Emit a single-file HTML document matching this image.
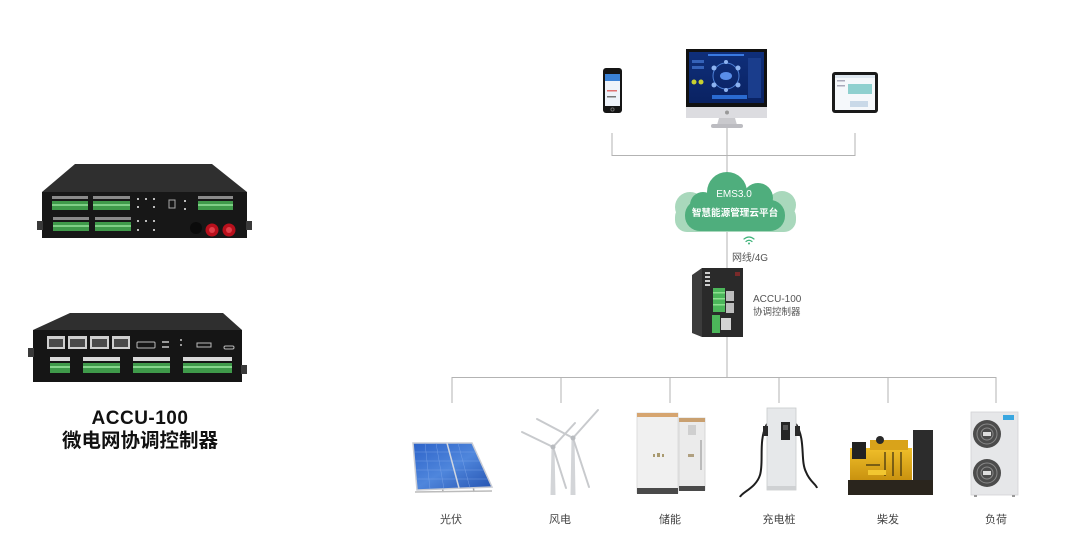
<!DOCTYPE html>
<html><head><meta charset="utf-8"><style>
html,body{margin:0;padding:0;background:#fff;}
svg{display:block;}
text{font-family:"Liberation Sans","Noto Sans CJK SC",sans-serif;}
</style></head><body>
<svg width="1088" height="557" viewBox="0 0 1088 557" xmlns="http://www.w3.org/2000/svg">
<defs>
<linearGradient id="sol" x1="0" y1="0" x2="1" y2="1"><stop offset="0" stop-color="#2c62c8"/><stop offset="0.5" stop-color="#4f86dc"/><stop offset="1" stop-color="#2452b0"/></linearGradient>
<linearGradient id="scr" x1="0" y1="0" x2="0" y2="1"><stop offset="0" stop-color="#0f2f7a"/><stop offset="1" stop-color="#0a2262"/></linearGradient>
<linearGradient id="gen" x1="0" y1="0" x2="0" y2="1"><stop offset="0" stop-color="#f0bf2a"/><stop offset="1" stop-color="#c9920f"/></linearGradient>
</defs>
<rect width="1088" height="557" fill="#fff"/>

<!-- connector lines -->
<g stroke="#b3b3b3" stroke-width="1" fill="none">
<path d="M612 133V155.5H855V133"/>
<path d="M727 127V377"/>
<path d="M452 403V377.5H996V403"/>
<path d="M561 377V403M670 377V403M779 377V403M888 377V403"/>
</g>

<!-- ===== Left device 1 ===== -->
<polygon points="75,164 212,164 247,192 42,192" fill="#2f2f2f"/>
<rect x="42" y="192" width="205" height="46" fill="#171717"/>
<rect x="37" y="221" width="6" height="9" fill="#3a3a3a"/>
<rect x="246" y="221" width="6" height="9" fill="#3a3a3a"/>
<g fill="#8a8a8a">
<rect x="52" y="196" width="36" height="3"/><rect x="93" y="196" width="37" height="3"/>
<rect x="53" y="217" width="36" height="3"/><rect x="95" y="217" width="36" height="3"/>
<rect x="198" y="196" width="35" height="3"/>
</g>
<g fill="#3f9a4a">
<rect x="52" y="201" width="36" height="9"/><rect x="93" y="201" width="37" height="9"/>
<rect x="53" y="222" width="36" height="9"/><rect x="95" y="222" width="36" height="9"/>
<rect x="198" y="201" width="35" height="9"/>
</g>
<g fill="#7fcf86">
<rect x="52" y="204" width="36" height="2"/><rect x="93" y="204" width="37" height="2"/>
<rect x="53" y="225" width="36" height="2"/><rect x="95" y="225" width="36" height="2"/>
<rect x="198" y="204" width="35" height="2"/>
</g>
<g fill="#bbb">
<rect x="137" y="198" width="2" height="2"/><rect x="145" y="198" width="2" height="2"/><rect x="153" y="198" width="2" height="2"/>
<rect x="137" y="206" width="2" height="2"/><rect x="153" y="206" width="2" height="2"/>
<rect x="137" y="220" width="2" height="2"/><rect x="145" y="220" width="2" height="2"/><rect x="153" y="220" width="2" height="2"/>
<rect x="137" y="229" width="2" height="2"/><rect x="153" y="229" width="2" height="2"/>
<rect x="184" y="200" width="2" height="2"/><rect x="184" y="208" width="2" height="2"/>
</g>
<rect x="169" y="200" width="6" height="8" fill="none" stroke="#aaa" stroke-width="1"/>
<circle cx="196" cy="228" r="6" fill="#0b0b0b"/>
<circle cx="212" cy="230" r="6.5" fill="#b8101c"/><circle cx="212" cy="230" r="3" fill="#e0404a"/>
<circle cx="229" cy="230" r="6.5" fill="#b8101c"/><circle cx="229" cy="230" r="3" fill="#e0404a"/>

<!-- ===== Left device 2 ===== -->
<polygon points="70,313 223,313 242,330 33,330" fill="#2f2f2f"/>
<rect x="33" y="330" width="209" height="52" fill="#151515"/>
<rect x="28" y="348" width="6" height="9" fill="#3a3a3a"/>
<rect x="241" y="365" width="6" height="9" fill="#3a3a3a"/>
<g fill="#cfcfcf">
<rect x="47" y="336" width="18" height="13"/><rect x="68" y="336" width="19" height="13"/>
<rect x="90" y="336" width="19" height="13"/><rect x="112" y="336" width="18" height="13"/>
</g>
<g fill="#4a4a4a">
<rect x="49" y="339" width="14" height="8"/><rect x="70" y="339" width="15" height="8"/>
<rect x="92" y="339" width="15" height="8"/><rect x="114" y="339" width="14" height="8"/>
</g>
<rect x="137" y="342" width="18" height="6" rx="1" fill="none" stroke="#bbb" stroke-width="1"/>
<rect x="197" y="343" width="14" height="4" fill="none" stroke="#bbb" stroke-width="1"/>
<rect x="224" y="346" width="10" height="3" rx="1.5" fill="none" stroke="#bbb" stroke-width="1"/>
<g fill="#999"><rect x="162" y="341" width="7" height="2"/><rect x="162" y="346" width="7" height="2"/><rect x="180" y="339" width="2" height="2"/><rect x="180" y="344" width="2" height="2"/></g>
<g fill="#d8d8d8">
<rect x="50" y="357" width="20" height="4"/><rect x="83" y="357" width="37" height="4"/>
<rect x="133" y="357" width="37" height="4"/><rect x="183" y="357" width="49" height="4"/>
</g>
<g fill="#3f9a4a">
<rect x="50" y="363" width="20" height="10"/><rect x="83" y="363" width="37" height="10"/>
<rect x="133" y="363" width="37" height="10"/><rect x="183" y="363" width="49" height="10"/>
</g>
<g fill="#86d68c">
<rect x="50" y="366" width="20" height="2"/><rect x="83" y="366" width="37" height="2"/>
<rect x="133" y="366" width="37" height="2"/><rect x="183" y="366" width="49" height="2"/>
</g>

<text x="140" y="424" font-size="19" font-weight="bold" text-anchor="middle" fill="#111" letter-spacing="0.5">ACCU-100</text>
<text x="140" y="447" font-size="19.5" font-weight="bold" text-anchor="middle" fill="#111" style='font-family:"Noto Sans CJK SC",sans-serif'>微电网协调控制器</text>

<!-- ===== Top devices ===== -->
<rect x="603" y="68" width="19" height="45" rx="3" fill="#151515"/>
<rect x="605" y="74" width="15" height="32" fill="#eef3fa"/>
<rect x="605" y="74" width="15" height="7" fill="#3b82d6"/>
<rect x="607" y="90" width="10" height="1.5" fill="#e07070"/>
<rect x="607" y="96" width="9" height="1.5" fill="#777"/>
<circle cx="612.5" cy="109.5" r="1.6" fill="none" stroke="#777" stroke-width="0.8"/>

<rect x="686" y="49" width="81" height="58" fill="#111"/>
<rect x="689" y="52" width="75" height="51" fill="url(#scr)"/>
<circle cx="726" cy="76" r="13" fill="none" stroke="#4c7fd6" stroke-width="1"/>
<ellipse cx="726" cy="76" rx="6" ry="4" fill="#5a8ee8"/>
<g fill="#8db3f0">
<circle cx="714" cy="68" r="2.5"/><circle cx="738" cy="68" r="2.5"/><circle cx="714" cy="85" r="2.5"/><circle cx="738" cy="85" r="2.5"/><circle cx="726" cy="62" r="2"/><circle cx="726" cy="90" r="2"/>
</g>
<rect x="692" y="60" width="12" height="3" fill="#3562b8"/>
<rect x="692" y="66" width="12" height="3" fill="#3562b8"/>
<circle cx="694" cy="82" r="2.5" fill="#c8d030"/><circle cx="701" cy="82" r="2.5" fill="#c8d030"/>
<rect x="748" y="58" width="13" height="40" fill="#1a3d8c"/>
<rect x="712" y="95" width="35" height="4" fill="#2a6ad0"/>
<rect x="708" y="54" width="36" height="2" fill="#3a7ae0"/>
<rect x="686" y="107" width="81" height="11" fill="#dcdce0"/>
<circle cx="727" cy="112.5" r="2" fill="#999"/>
<polygon points="719,118 735,118 737,125 717,125" fill="#c9c9cd"/>
<rect x="711" y="124" width="32" height="4" rx="2" fill="#bcbcc1"/>

<rect x="832" y="72" width="46" height="41" rx="3" fill="#1a1a1a"/>
<rect x="835" y="75" width="40" height="35" fill="#f5f8fb"/>
<rect x="835" y="75" width="40" height="3" fill="#dfe8f0"/>
<rect x="848" y="84" width="24" height="10" fill="#8fd0cf"/>
<rect x="837" y="80" width="8" height="1.5" fill="#aab"/>
<rect x="837" y="85" width="8" height="1.5" fill="#aab"/>
<rect x="850" y="101" width="18" height="6" fill="#c9d9e8"/>

<!-- ===== Cloud ===== -->
<g fill="#a9d8bc">
<circle cx="690" cy="207" r="15"/>
<circle cx="782" cy="205" r="14"/>
<rect x="675" y="205" width="121" height="27" rx="12"/>
</g>
<g fill="#4fae7d">
<circle cx="727" cy="192" r="20"/>
<circle cx="703" cy="205" r="13"/>
<circle cx="758" cy="198" r="15"/>
<rect x="685" y="200" width="100" height="31" rx="15"/>
</g>
<text x="734" y="197" font-size="10" fill="#fff" text-anchor="middle">EMS3.0</text>
<text x="735" y="216" font-size="9.6" fill="#fff" text-anchor="middle" font-weight="bold">智慧能源管理云平台</text>

<!-- wifi -->
<g fill="none" stroke="#3fb37a" stroke-width="1.2" stroke-linecap="round">
<path d="M744 239 Q749 235 754 239"/>
<path d="M746 241.5 Q749 239 752 241.5"/>
</g>
<circle cx="749" cy="243.5" r="1" fill="#3fb37a"/>
<text x="750" y="261" font-size="10" fill="#555" text-anchor="middle">网线/4G</text>

<!-- ===== ACCU device ===== -->
<polygon points="692,275 702,268 702,337 692,333" fill="#3c3c3c"/>
<rect x="702" y="268" width="41" height="69" fill="#2a2a2a"/>
<g fill="#cfcfcf"><rect x="705" y="272" width="5" height="2"/><rect x="705" y="276" width="5" height="2"/><rect x="705" y="280" width="5" height="2"/><rect x="705" y="284" width="5" height="2"/></g>
<rect x="735" y="272" width="5" height="4" fill="#7a2a2a"/>
<rect x="713" y="288" width="12" height="24" fill="#4cb65a"/>
<g fill="#8de08f"><rect x="713" y="292" width="12" height="1.5"/><rect x="713" y="298" width="12" height="1.5"/><rect x="713" y="304" width="12" height="1.5"/></g>
<rect x="726" y="291" width="8" height="10" fill="#bdbdbd"/>
<rect x="726" y="303" width="8" height="10" fill="#bdbdbd"/>
<rect x="712" y="315" width="8" height="18" fill="#4cb65a"/>
<rect x="721" y="318" width="10" height="12" fill="#d4d4d4"/>
<text x="753" y="302" font-size="10" fill="#555">ACCU-100</text>
<text x="753" y="315" font-size="9.5" fill="#555">协调控制器</text>

<!-- ===== Bottom icons ===== -->
<line x1="470" y1="465" x2="474" y2="492" stroke="#aaa" stroke-width="1.5"/>
<line x1="440" y1="465" x2="443" y2="492" stroke="#aaa" stroke-width="1.5"/>
<polygon points="413,443 472,443 492,487 417,490" fill="url(#sol)" stroke="#c9ccd4" stroke-width="1.5"/>
<g stroke="#7fa7ea" stroke-width="0.5" opacity="0.8">
<line x1="414" y1="452" x2="476" y2="452"/><line x1="415" y1="461" x2="480" y2="461"/><line x1="416" y1="470" x2="484" y2="470"/><line x1="416" y1="479" x2="488" y2="479"/>
<line x1="425" y1="443" x2="430" y2="489"/><line x1="436" y1="443" x2="444" y2="489"/><line x1="458" y1="443" x2="470" y2="488"/>
</g>
<line x1="447" y1="443" x2="459" y2="488" stroke="#d0d6e0" stroke-width="1.5"/>
<line x1="415" y1="492" x2="492" y2="491" stroke="#bbb" stroke-width="1.5"/>

<g fill="#d3d5d8">
<polygon points="551.5,448 554.5,448 555.5,495 550.5,495"/>
<polygon points="571.5,438 574.5,438 575.5,495 570.5,495"/>
</g>
<g stroke="#c8cacd" stroke-width="2" stroke-linecap="round">
<line x1="553" y1="447" x2="522" y2="432"/>
<line x1="553" y1="447" x2="575" y2="423"/>
<line x1="553" y1="447" x2="566" y2="488"/>
<line x1="573" y1="438" x2="537" y2="419"/>
<line x1="573" y1="438" x2="598" y2="410"/>
<line x1="573" y1="438" x2="589" y2="487"/>
</g>
<circle cx="553" cy="447" r="2.5" fill="#b8bbbf"/>
<circle cx="573" cy="438" r="2.5" fill="#b8bbbf"/>

<rect x="637" y="413" width="41" height="80" fill="#f0f0f0" stroke="#d6d6d6" stroke-width="0.8"/>
<rect x="637" y="413" width="41" height="4" fill="#d6a570"/>
<rect x="637" y="488" width="41" height="6" fill="#4a4a4a"/>
<g fill="#a99a70"><rect x="653" y="454" width="2" height="3"/><rect x="657" y="453" width="3" height="4"/><rect x="662" y="454" width="2" height="3"/></g>
<rect x="679" y="418" width="26" height="72" fill="#ebebeb" stroke="#d0d0d0" stroke-width="0.8"/>
<rect x="679" y="418" width="26" height="4" fill="#c9a070"/>
<rect x="679" y="486" width="26" height="5" fill="#4a4a4a"/>
<rect x="688" y="425" width="8" height="10" fill="#cfcfcf"/>
<rect x="700" y="440" width="2" height="30" fill="#bbb"/>
<rect x="688" y="454" width="6" height="3" fill="#b0a080"/>

<path d="M767 424 C758 440,764 462,760 475 C756 488,742 492,740 497" fill="none" stroke="#1e1e1e" stroke-width="2"/>
<path d="M796 424 C806 440,800 460,806 472 C810 482,816 484,817 488" fill="none" stroke="#1e1e1e" stroke-width="2"/>
<rect x="767" y="408" width="29" height="82" fill="#e6e8ea" stroke="#c8cacc" stroke-width="0.8"/>
<rect x="767" y="486" width="29" height="4" fill="#cfd1d3"/>
<rect x="781" y="422" width="9" height="18" fill="#252525"/>
<rect x="783" y="425" width="5" height="5" fill="#555"/>
<rect x="763" y="426" width="5" height="10" fill="#2a2a2a"/>
<rect x="795" y="426" width="5" height="10" fill="#2a2a2a"/>

<rect x="913" y="430" width="20" height="52" fill="#2c2c2c"/>
<rect x="848" y="480" width="85" height="15" fill="#2a251d"/>
<rect x="850" y="448" width="62" height="32" fill="url(#gen)"/>
<rect x="870" y="440" width="38" height="10" fill="#d9a31a"/>
<rect x="852" y="442" width="14" height="17" fill="#222"/>
<circle cx="880" cy="440" r="4" fill="#2a2a2a"/>
<g stroke="#3a2e10" stroke-width="1.2" fill="none">
<path d="M885 452 V476 M893 452 V476 M901 452 V476"/>
<path d="M866 465 H880"/>
</g>
<rect x="868" y="470" width="18" height="5" fill="#f2c630"/>

<rect x="971" y="412" width="47" height="83" fill="#e6e7e9" stroke="#d2d3d5" stroke-width="0.8"/>
<rect x="1003" y="415" width="11" height="5" fill="#3aa7e0"/>
<circle cx="987" cy="434" r="14" fill="#4c4c4c"/>
<circle cx="987" cy="434" r="10" fill="none" stroke="#888" stroke-width="1"/>
<circle cx="987" cy="434" r="6" fill="none" stroke="#888" stroke-width="1"/>
<rect x="983" y="432" width="8" height="4" fill="#ddd"/>
<circle cx="987" cy="473" r="14" fill="#4c4c4c"/>
<circle cx="987" cy="473" r="10" fill="none" stroke="#888" stroke-width="1"/>
<circle cx="987" cy="473" r="6" fill="none" stroke="#888" stroke-width="1"/>
<rect x="983" y="471" width="8" height="4" fill="#ddd"/>
<rect x="974" y="495" width="3" height="2" fill="#999"/><rect x="1012" y="495" width="3" height="2" fill="#999"/>

<g font-size="11" fill="#444" text-anchor="middle">
<text x="451" y="523">光伏</text>
<text x="560" y="523">风电</text>
<text x="670" y="523">储能</text>
<text x="779" y="523">充电桩</text>
<text x="888" y="523">柴发</text>
<text x="996" y="523">负荷</text>
</g>
</svg>
</body></html>
